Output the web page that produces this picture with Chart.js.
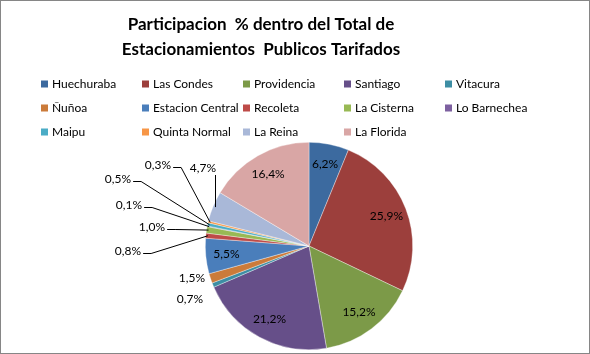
<!DOCTYPE html>
<html><head><meta charset="utf-8">
<script src="https://cdn.jsdelivr.net/npm/chart.js@4/dist/chart.umd.min.js"></script>
<style>html,body{margin:0;padding:0;background:#fff}#wrap{width:590px;height:354px;position:relative}</style>
</head><body><div id="wrap"><canvas id="c" width="590" height="354"></canvas></div>
<script>
const titleLines = ["Participacion  % dentro del Total de", "Estacionamientos  Publicos Tarifados"];
const categories = ["Huechuraba","Las Condes","Providencia","Santiago","Vitacura","Ñuñoa","Estacion Central","Recoleta","La Cisterna","Lo Barnechea","Maipu","Quinta Normal","La Reina","La Florida"];
const values = [6.2,25.9,15.2,21.2,0.7,1.5,5.5,0.8,1.0,0.1,0.5,0.3,4.7,16.4];
const sliceColors = ["#3C6A9F","#9C3F3C","#7C9A48","#664F89","#3D8EA4","#CB7B3A","#4A7EBB","#BE4B48","#98B954","#7D60A0","#4BACC6","#F79646","#A9B8D8","#D9A6A5"];
const legendColors = ["#3C6A9F","#9C3F3C","#7C9A48","#664F89","#3D8EA4","#CB7B3A","#4A7EBB","#BE4B48","#98B954","#7D60A0","#4BACC6","#F79646","#A9B8D8","#D9A6A5"];

// label placement (offsets from pie centre) for slices labelled outside
const outsideLabels = {
  4:{dx:-119,dy:53,leader:false},
  5:{dx:-117,dy:32,leader:false},
  7:{dx:-181,dy:5,leader:true},
  8:{dx:-157,dy:-19,leader:true},
  9:{dx:-180,dy:-41,leader:true},
  10:{dx:-191,dy:-67,leader:true},
  11:{dx:-151,dy:-81,leader:true},
  12:{dx:-106,dy:-78,leader:true}
};
const FONT = "Lato, 'Open Sans', sans-serif";
function fmt(v){return v.toFixed(1).replace('.',',')+'%';}

const decor = {
  id:'decor',
  afterDraw(chart){
    const ctx = chart.ctx;
    ctx.save();
    // border
    ctx.strokeStyle = '#868686'; ctx.lineWidth = 1;
    ctx.strokeRect(0.5,0.5,589,353);
    // title
    ctx.fillStyle = '#000';
    ctx.font = "bold 17px " + FONT;
    ctx.textAlign = 'center'; ctx.textBaseline = 'middle';
    ctx.fillText(titleLines[0], 261, 25);
    ctx.fillText(titleLines[1], 261, 50);
    // legend
    ctx.font = "12px " + FONT;
    ctx.textAlign = 'left';
    categories.forEach((name,i)=>{
      const col = i % 5, row = Math.floor(i/5);
      const x = 41 + col*101, y = 84 + row*24;
      ctx.fillStyle = legendColors[i];
      ctx.fillRect(x, y-3.5, 7, 7);
      ctx.fillStyle = '#000';
      ctx.fillText(name, x+11, y+0.5);
    });
    // data labels
    const meta = chart.getDatasetMeta(0);
    ctx.font = "12px " + FONT;
    ctx.textAlign = 'center'; ctx.textBaseline = 'middle';
    meta.data.forEach((arc,i)=>{
      const p = arc.getProps(['x','y','startAngle','endAngle','outerRadius'],true);
      const mid = (p.startAngle+p.endAngle)/2;
      const txt = fmt(values[i]);
      const ol = outsideLabels[i];
      if(!ol){
        const r = p.outerRadius*0.8;
        ctx.fillStyle = '#000';
        ctx.fillText(txt, p.x+Math.cos(mid)*r, p.y+Math.sin(mid)*r);
        return;
      }
      const tx = p.x+ol.dx, ty = p.y+ol.dy;
      ctx.fillStyle = '#000';
      ctx.fillText(txt, tx, ty);
      if(ol.leader){
        const w = ctx.measureText(txt).width;
        const ax = p.x+Math.cos(mid)*(p.outerRadius-2), ay = p.y+Math.sin(mid)*(p.outerRadius-2);
        ctx.strokeStyle = '#000'; ctx.lineWidth = 1;
        ctx.beginPath();
        if(Math.abs(ax-tx) < w/2){
          ctx.moveTo(Math.round(ax)+0.5, ty+7);
          ctx.lineTo(Math.round(ax)+0.5, ay);
        } else {
          const sx = tx + w/2 + 2, ly = Math.round(ty+2)+0.5;
          ctx.moveTo(sx, ly);
          ctx.lineTo(sx+8, ly);
          ctx.lineTo(ax, ay);
        }
        ctx.stroke();
      }
    });
    ctx.restore();
  }
};

new Chart(document.getElementById('c'), {
  type:'pie',
  data:{labels:categories, datasets:[{data:values, backgroundColor:sliceColors, borderColor:'rgba(255,255,255,0.6)', borderWidth:0.6}]},
  options:{
    responsive:false, animation:false,
    layout:{padding:{top:142,bottom:4,left:205,right:177}},
    plugins:{legend:{display:false}, title:{display:false}, tooltip:{enabled:false}}
  },
  plugins:[decor]
});
</script></body></html>
